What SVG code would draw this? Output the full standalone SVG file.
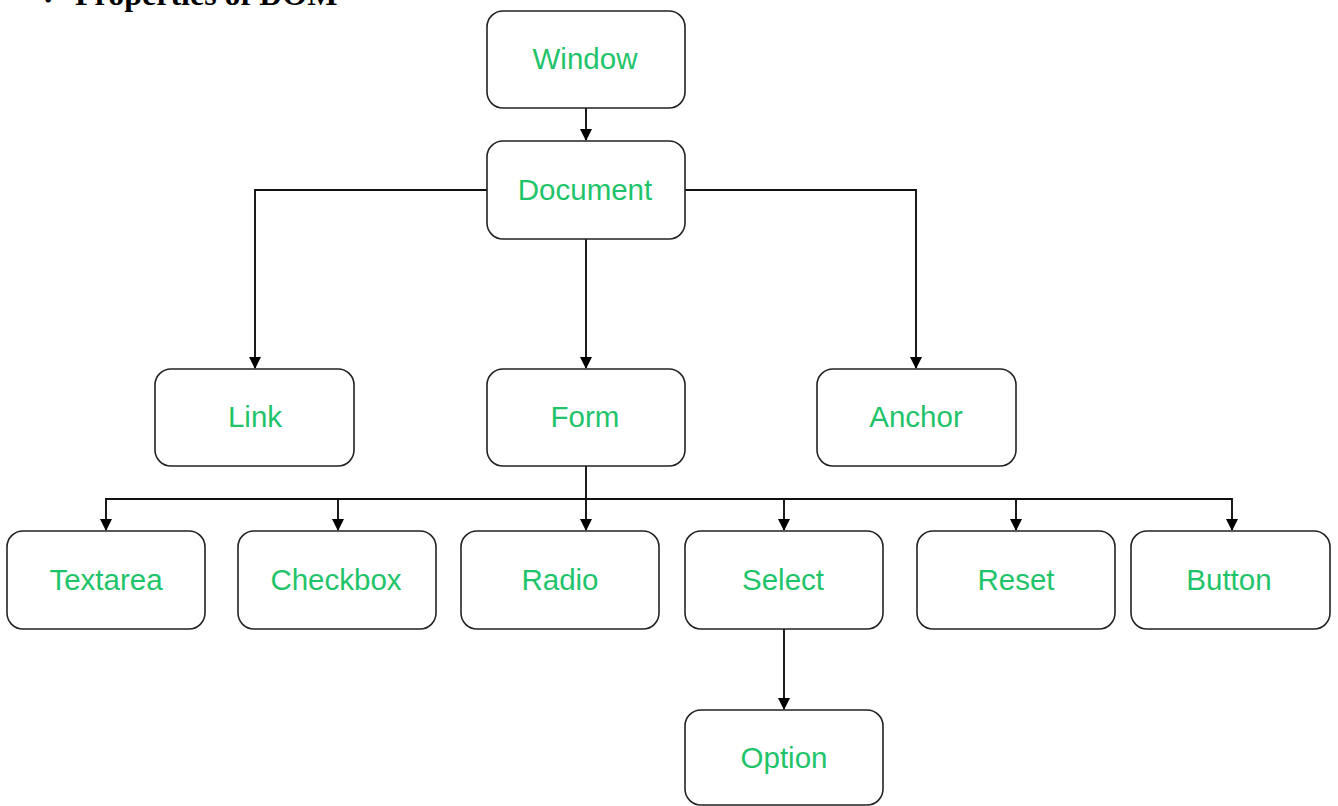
<svg xmlns="http://www.w3.org/2000/svg" width="1338" height="806" viewBox="0 0 1338 806">
<style>
.node rect{fill:#fff;stroke:#222;stroke-width:1.6}
.node text{font-family:"Liberation Sans",Arial,sans-serif;font-size:29.5px;fill:#1fc46a;text-anchor:middle;dominant-baseline:central}
.conn{fill:none;stroke:#111;stroke-width:1.9}
.title{font-family:"Liberation Serif","Times New Roman",serif;font-weight:bold;font-size:32px;fill:#000}
</style>
<defs>
<marker id="arr" markerWidth="12" markerHeight="12" viewBox="0 0 12 12" refX="11" refY="6" orient="auto" markerUnits="userSpaceOnUse">
<path d="M0,0 L12,6 L0,12 Z" fill="#000"/>
</marker>
</defs>
<rect width="1338" height="806" fill="#fff"/>
<text class="title" x="40" y="5">✓ Properties of DOM</text>
<g id="connectors">
<path class="conn" d="M586,108 V140" marker-end="url(#arr)"/>
<path class="conn" d="M487,190 H255 V368" marker-end="url(#arr)"/>
<path class="conn" d="M586,239 V368" marker-end="url(#arr)"/>
<path class="conn" d="M685,190 H916 V368" marker-end="url(#arr)"/>
<path class="conn" d="M586,466 V530" marker-end="url(#arr)"/>
<path class="conn" d="M586,499 H106 V530" marker-end="url(#arr)"/>
<path class="conn" d="M338,499 V530" marker-end="url(#arr)"/>
<path class="conn" d="M586,499 H1232 V530" marker-end="url(#arr)"/>
<path class="conn" d="M784,499 V530" marker-end="url(#arr)"/>
<path class="conn" d="M1016,499 V530" marker-end="url(#arr)"/>
<path class="conn" d="M784,629 V709" marker-end="url(#arr)"/>
</g>
<g id="window" class="node"><rect x="487" y="11" width="198" height="97" rx="16"/><text x="585" y="58.5">Window</text></g>
<g id="document" class="node"><rect x="487" y="141" width="198" height="98" rx="16"/><text x="585" y="189">Document</text></g>
<g id="link" class="node"><rect x="155" y="369" width="199" height="97" rx="16"/><text x="255" y="416.5">Link</text></g>
<g id="form" class="node"><rect x="487" y="369" width="198" height="97" rx="16"/><text x="585" y="416.5">Form</text></g>
<g id="anchor" class="node"><rect x="817" y="369" width="199" height="97" rx="16"/><text x="916" y="416.5">Anchor</text></g>
<g id="textarea" class="node"><rect x="7" y="531" width="198" height="98" rx="16"/><text x="106" y="579">Textarea</text></g>
<g id="checkbox" class="node"><rect x="238" y="531" width="198" height="98" rx="16"/><text x="336" y="579">Checkbox</text></g>
<g id="radio" class="node"><rect x="461" y="531" width="198" height="98" rx="16"/><text x="560" y="579">Radio</text></g>
<g id="select" class="node"><rect x="685" y="531" width="198" height="98" rx="16"/><text x="783" y="579">Select</text></g>
<g id="reset" class="node"><rect x="917" y="531" width="198" height="98" rx="16"/><text x="1016" y="579">Reset</text></g>
<g id="button" class="node"><rect x="1131" y="531" width="199" height="98" rx="16"/><text x="1229" y="579">Button</text></g>
<g id="option" class="node"><rect x="685" y="710" width="198" height="95" rx="16"/><text x="784" y="757">Option</text></g>
</svg>
